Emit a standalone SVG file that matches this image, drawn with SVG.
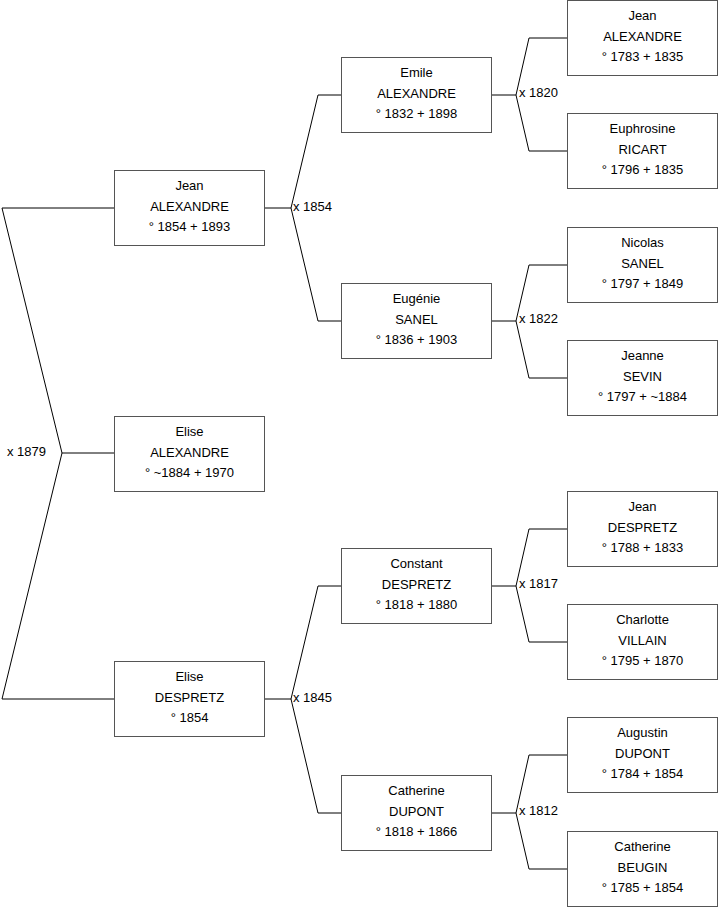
<svg xmlns="http://www.w3.org/2000/svg" width="719" height="908" viewBox="0 0 719 908">
<style>
.box{fill:#fff;stroke:#555;stroke-width:1}
.ln{fill:none;stroke:#000;stroke-width:1}
text{font-family:"Liberation Sans",Arial,sans-serif;font-size:13px;fill:#000}
.c{text-anchor:middle}
</style>
<rect width="719" height="908" fill="#fff"/>
<g id="connectors">
<polyline class="ln" points="114.5,208 2,208 62,453 2,699 114.5,699"/>
<line class="ln" x1="62" y1="453" x2="114.5" y2="453"/>
<polyline class="ln" points="341.5,95 318,95 291,208 318,321 341.5,321"/>
<line class="ln" x1="264.5" y1="208" x2="291" y2="208"/>
<polyline class="ln" points="341.5,586 318,586 291,699 318,813 341.5,813"/>
<line class="ln" x1="264.5" y1="699" x2="291" y2="699"/>
<polyline class="ln" points="567.5,38 529,38 516,95 529,151 567.5,151"/>
<line class="ln" x1="491.5" y1="95" x2="516" y2="95"/>
<polyline class="ln" points="567.5,265 529,265 516,321 529,378 567.5,378"/>
<line class="ln" x1="491.5" y1="321" x2="516" y2="321"/>
<polyline class="ln" points="567.5,529 529,529 516,586 529,642 567.5,642"/>
<line class="ln" x1="491.5" y1="586" x2="516" y2="586"/>
<polyline class="ln" points="567.5,755 529,755 516,813 529,869 567.5,869"/>
<line class="ln" x1="491.5" y1="813" x2="516" y2="813"/>
<text x="7" y="456">x 1879</text>
<text x="293" y="211">x 1854</text>
<text x="293" y="702">x 1845</text>
<text x="519" y="97">x 1820</text>
<text x="519" y="323">x 1822</text>
<text x="519" y="588">x 1817</text>
<text x="519" y="815">x 1812</text>
</g>
<g id="n-jean-1854">
<rect class="box" x="114.5" y="170.5" width="150" height="75"/>
<text class="c" x="189.5" y="190">Jean</text><text class="c" x="189.5" y="210.5">ALEXANDRE</text><text class="c" x="189.5" y="231">° 1854 + 1893</text>
</g>
<g id="n-elise-alexandre">
<rect class="box" x="114.5" y="416.5" width="150" height="75"/>
<text class="c" x="189.5" y="436">Elise</text><text class="c" x="189.5" y="456.5">ALEXANDRE</text><text class="c" x="189.5" y="477">° ~1884 + 1970</text>
</g>
<g id="n-elise-despretz">
<rect class="box" x="114.5" y="661.5" width="150" height="75"/>
<text class="c" x="189.5" y="681">Elise</text><text class="c" x="189.5" y="701.5">DESPRETZ</text><text class="c" x="189.5" y="722">° 1854</text>
</g>
<g id="n-emile">
<rect class="box" x="341.5" y="57.5" width="150" height="75"/>
<text class="c" x="416.5" y="77">Emile</text><text class="c" x="416.5" y="97.5">ALEXANDRE</text><text class="c" x="416.5" y="118">° 1832 + 1898</text>
</g>
<g id="n-eugenie">
<rect class="box" x="341.5" y="283.5" width="150" height="75"/>
<text class="c" x="416.5" y="303">Eugénie</text><text class="c" x="416.5" y="323.5">SANEL</text><text class="c" x="416.5" y="344">° 1836 + 1903</text>
</g>
<g id="n-constant">
<rect class="box" x="341.5" y="548.5" width="150" height="75"/>
<text class="c" x="416.5" y="568">Constant</text><text class="c" x="416.5" y="588.5">DESPRETZ</text><text class="c" x="416.5" y="609">° 1818 + 1880</text>
</g>
<g id="n-catherine-dupont">
<rect class="box" x="341.5" y="775.5" width="150" height="75"/>
<text class="c" x="416.5" y="795">Catherine</text><text class="c" x="416.5" y="815.5">DUPONT</text><text class="c" x="416.5" y="836">° 1818 + 1866</text>
</g>
<g id="n-jean-1783">
<rect class="box" x="567.5" y="0.5" width="150" height="75"/>
<text class="c" x="642.5" y="20">Jean</text><text class="c" x="642.5" y="40.5">ALEXANDRE</text><text class="c" x="642.5" y="61">° 1783 + 1835</text>
</g>
<g id="n-euphrosine">
<rect class="box" x="567.5" y="113.5" width="150" height="75"/>
<text class="c" x="642.5" y="133">Euphrosine</text><text class="c" x="642.5" y="153.5">RICART</text><text class="c" x="642.5" y="174">° 1796 + 1835</text>
</g>
<g id="n-nicolas">
<rect class="box" x="567.5" y="227.5" width="150" height="75"/>
<text class="c" x="642.5" y="247">Nicolas</text><text class="c" x="642.5" y="267.5">SANEL</text><text class="c" x="642.5" y="288">° 1797 + 1849</text>
</g>
<g id="n-jeanne">
<rect class="box" x="567.5" y="340.5" width="150" height="75"/>
<text class="c" x="642.5" y="360">Jeanne</text><text class="c" x="642.5" y="380.5">SEVIN</text><text class="c" x="642.5" y="401">° 1797 + ~1884</text>
</g>
<g id="n-jean-despretz">
<rect class="box" x="567.5" y="491.5" width="150" height="75"/>
<text class="c" x="642.5" y="511">Jean</text><text class="c" x="642.5" y="531.5">DESPRETZ</text><text class="c" x="642.5" y="552">° 1788 + 1833</text>
</g>
<g id="n-charlotte">
<rect class="box" x="567.5" y="604.5" width="150" height="75"/>
<text class="c" x="642.5" y="624">Charlotte</text><text class="c" x="642.5" y="644.5">VILLAIN</text><text class="c" x="642.5" y="665">° 1795 + 1870</text>
</g>
<g id="n-augustin">
<rect class="box" x="567.5" y="717.5" width="150" height="75"/>
<text class="c" x="642.5" y="737">Augustin</text><text class="c" x="642.5" y="757.5">DUPONT</text><text class="c" x="642.5" y="778">° 1784 + 1854</text>
</g>
<g id="n-catherine-beugin">
<rect class="box" x="567.5" y="831.5" width="150" height="75"/>
<text class="c" x="642.5" y="851">Catherine</text><text class="c" x="642.5" y="871.5">BEUGIN</text><text class="c" x="642.5" y="892">° 1785 + 1854</text>
</g>
</svg>
